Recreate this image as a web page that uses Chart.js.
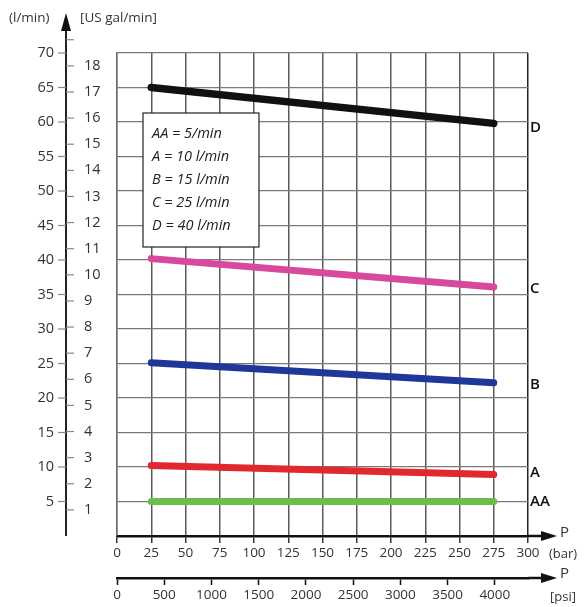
<!DOCTYPE html>
<html><head><meta charset="utf-8">
<script src="https://cdn.jsdelivr.net/npm/chart.js@4"></script>
<style>html,body{margin:0;padding:0;background:#fff}#wrap{width:587px;height:607px}</style>
</head><body><div id="wrap"><canvas id="c" width="587" height="607"></canvas></div>
<script>
// ---- data ----
const pressureBar = [25, 275];
const flowAA = [5, 5];
const flowA = [10.2, 8.9];
const flowB = [25.1, 22.2];
const flowC = [40.2, 36.1];
const flowD = [65, 59.8];
const seriesNames = ['AA', 'A', 'B', 'C', 'D'];
const barTicks = [0, 25, 50, 75, 100, 125, 150, 175, 200, 225, 250, 275, 300];
const psiTicks = [0, 500, 1000, 1500, 2000, 2500, 3000, 3500, 4000];
const lminTicks = [0, 5, 10, 15, 20, 25, 30, 35, 40, 45, 50, 55, 60, 65, 70];
const galTicks = [1, 2, 3, 4, 5, 6, 7, 8, 9, 10, 11, 12, 13, 14, 15, 16, 17, 18];
const galExtraTicks = [19];
const legendLines = ['AA = 5/min', 'A = 10 l/min', 'B = 15 l/min', 'C = 25 l/min', 'D = 40 l/min'];

const L_PER_GAL = 3.785411784;
const PSI_PER_BAR = 14.5037738;
const FONT = "'Open Sans', 'DejaVu Sans', sans-serif";

const seriesData = [flowAA, flowA, flowB, flowC, flowD];
const seriesColors = ['#6cbd4c', '#e0282e', '#20379a', '#d8489c', '#111111'];

const datasets = seriesData.map((vals, i) => ({
  label: seriesNames[i],
  data: pressureBar.map((x, j) => ({ x: x, y: vals[j] })),
  borderColor: seriesColors[i],
  backgroundColor: seriesColors[i],
  borderWidth: i === 4 ? 7.5 : 7,
  borderCapStyle: 'round',
  pointRadius: 0,
  fill: false,
  tension: 0,
  xAxisID: 'x',
  yAxisID: 'y'
}));

const decor = {
  id: 'decor',
  afterDatasetsDraw(chart) {
    const ctx = chart.ctx;
    const xs = chart.scales.x, ys = chart.scales.y, x2 = chart.scales.x2;
    const area = chart.chartArea;
    ctx.save();

    // legend box
    const bx = 143, by = 113, bw = 116, bh = 134;
    ctx.fillStyle = '#fff';
    ctx.fillRect(bx, by, bw, bh);
    ctx.strokeStyle = '#222';
    ctx.lineWidth = 1.2;
    ctx.strokeRect(bx, by, bw, bh);
    ctx.fillStyle = '#222';
    ctx.font = "italic 14.5px " + FONT;
    ctx.textAlign = 'left';
    ctx.textBaseline = 'middle';
    legendLines.forEach((t, i) => ctx.fillText(t, 152, 134 + i * 23));

    // left vertical axis
    const axX = 66;
    const y0 = ys.getPixelForValue(0);
    ctx.strokeStyle = '#222';
    ctx.lineWidth = 2;
    ctx.beginPath(); ctx.moveTo(axX, y0); ctx.lineTo(axX, 28); ctx.stroke();
    ctx.fillStyle = '#111';
    ctx.beginPath(); ctx.moveTo(axX, 13); ctx.lineTo(axX - 5, 31); ctx.lineTo(axX + 5, 31); ctx.closePath(); ctx.fill();

    // l/min ticks
    ctx.strokeStyle = '#888';
    ctx.lineWidth = 1.2;
    lminTicks.filter(v => v > 0).forEach(v => {
      const y = ys.getPixelForValue(v);
      ctx.beginPath(); ctx.moveTo(axX - 8, y); ctx.lineTo(axX, y); ctx.stroke();
    });
    // gal ticks and labels
    galTicks.concat(galExtraTicks).forEach(g => {
      const y = ys.getPixelForValue(g * L_PER_GAL);
      ctx.beginPath(); ctx.moveTo(axX, y); ctx.lineTo(axX + 8, y); ctx.stroke();
    });
    ctx.fillStyle = '#333';
    ctx.font = "14.5px " + FONT;
    ctx.textAlign = 'left';
    galTicks.forEach(g => {
      ctx.fillText(String(g), 84, ys.getPixelForValue(g * L_PER_GAL));
    });

    // headers
    ctx.fillStyle = '#333';
    ctx.font = "13.5px " + FONT;
    ctx.textAlign = 'left';
    ctx.fillText('(l/min)', 9, 18);
    ctx.fillText('[US gal/min]', 80, 18);

    // x axis arrows
    [xs.top, x2.top].forEach(y => {
      ctx.strokeStyle = '#111';
      ctx.lineWidth = 2.5;
      ctx.beginPath(); ctx.moveTo(area.right, y); ctx.lineTo(545, y); ctx.stroke();
      ctx.fillStyle = '#111';
      ctx.beginPath(); ctx.moveTo(557, y); ctx.lineTo(541, y - 5); ctx.lineTo(541, y + 5); ctx.closePath(); ctx.fill();
    });
    ctx.fillStyle = '#333';
    ctx.font = "15px " + FONT;
    ctx.textAlign = 'left';
    ctx.fillText('P', 560, xs.top - 3);
    ctx.fillText('P', 560, x2.top - 4);
    ctx.font = "13px " + FONT;
    ctx.fillText('(bar)', 549, 554);
    ctx.fillText('[psi]', 550, 597);

    // right-side series labels
    ctx.fillStyle = '#111';
    ctx.font = "600 15px " + FONT;
    ctx.textAlign = 'left';
    const offs = [0, -2, 2, 2, 4];
    seriesData.forEach((vals, i) => {
      const y = ys.getPixelForValue(vals[vals.length - 1]) + offs[i];
      ctx.fillText(seriesNames[i], 530, y);
    });

    ctx.restore();
  }
};

new Chart(document.getElementById('c'), {
  type: 'line',
  data: { datasets: datasets },
  options: {
    responsive: false,
    animation: false,
    devicePixelRatio: 1,
    layout: { padding: { left: 0, top: 53, right: 59, bottom: 0 } },
    plugins: { legend: { display: false }, tooltip: { enabled: false } },
    scales: {
      x: {
        type: 'linear', position: 'bottom', weight: 0,
        min: 0, max: 300,
        afterBuildTicks: s => { s.ticks = barTicks.map(v => ({ value: v })); },
        afterFit: s => { s.height = 42; },
        ticks: { font: { size: 13.5, family: FONT }, color: '#333', padding: 2, maxRotation: 0, autoSkip: false, callback: v => String(v) },
        grid: {
          color: c => (c.tick && c.tick.value === 300) ? '#222' : '#5a5a5a',
          lineWidth: 1.5, tickLength: 7, tickColor: '#333', tickWidth: 1.5
        },
        border: { color: '#111', width: 2.5 }
      },
      x2: {
        type: 'linear', position: 'bottom', weight: 1,
        min: 0, max: 300 * PSI_PER_BAR,
        afterBuildTicks: s => { s.ticks = psiTicks.map(v => ({ value: v })); },
        afterFit: s => { s.height = 29; },
        ticks: { font: { size: 13.5, family: FONT }, color: '#333', padding: 2, maxRotation: 0, autoSkip: false, callback: v => String(v) },
        grid: { drawOnChartArea: false, tickLength: 7, tickColor: '#111', tickWidth: 1.5 },
        border: { color: '#111', width: 2.5 }
      },
      y: {
        type: 'linear', position: 'left',
        min: 0, max: 70,
        afterBuildTicks: s => { s.ticks = lminTicks.map(v => ({ value: v })); },
        afterFit: s => { s.width = 117; s.paddingTop = 8; s.paddingBottom = 8; },
        ticks: { font: { size: 14.5, family: FONT }, color: '#333', padding: 63, callback: v => v === 0 ? '' : String(v) },
        grid: { color: '#7a7a7a', lineWidth: 1.3, drawTicks: false },
        border: { color: '#6a6a6a', width: 1.3 }
      }
    }
  },
  plugins: [decor]
});
</script>
</body></html>
